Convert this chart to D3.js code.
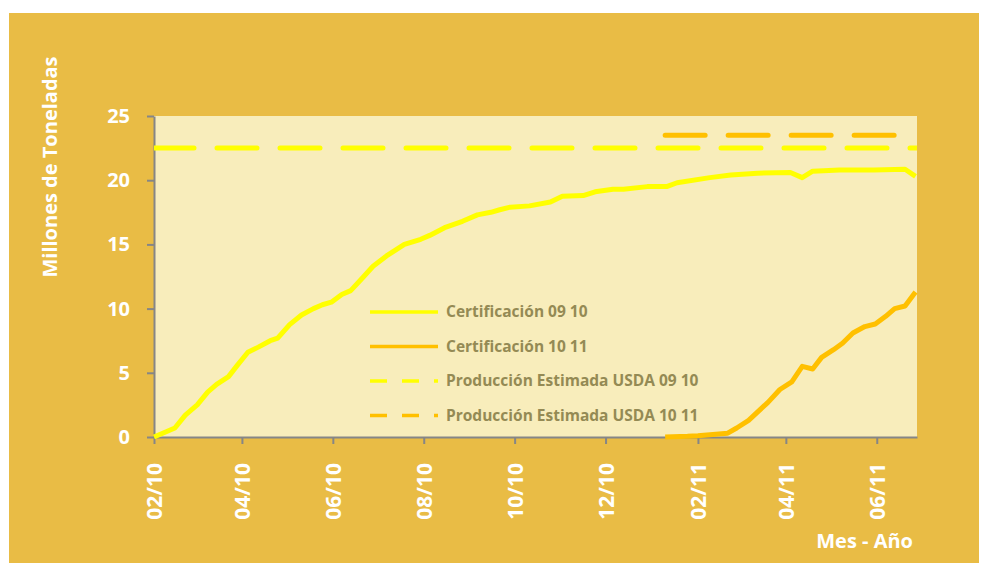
<!DOCTYPE html>
<html>
<head>
<meta charset="utf-8">
<script src="https://cdn.jsdelivr.net/npm/d3@7"></script>
<style>
  body { margin: 0; background: #fff; }
  text { font-family: "Open Sans", sans-serif; }
</style>
</head>
<body>
<div id="chart"></div>
<script>
// Certificación 09 10 (weekly, millones de toneladas)
var dates0910 = ["2010-02-01","2010-02-15","2010-02-22","2010-03-02","2010-03-09","2010-03-15","2010-03-23","2010-03-29",
  "2010-04-05","2010-04-12","2010-04-20","2010-04-25","2010-05-03","2010-05-11","2010-05-19","2010-05-25","2010-05-31",
  "2010-06-07","2010-06-13","2010-06-21","2010-06-28","2010-07-07","2010-07-19","2010-07-30","2010-08-05","2010-08-15",
  "2010-08-27","2010-09-06","2010-09-15","2010-09-21","2010-09-28","2010-10-11","2010-10-25","2010-11-02","2010-11-16",
  "2010-11-24","2010-12-06","2010-12-13","2010-12-29","2011-01-11","2011-01-18","2011-02-09","2011-02-23","2011-03-13",
  "2011-04-04","2011-04-12","2011-04-19","2011-05-07","2011-05-30","2011-06-20","2011-06-27"];
var vals0910 = [0, 0.7, 1.7, 2.5, 3.5, 4.1, 4.7, 5.6,
  6.6, 7.0, 7.5, 7.7, 8.75, 9.5, 10.0, 10.3, 10.5,
  11.1, 11.4, 12.4, 13.3, 14.1, 15.0, 15.4, 15.7, 16.3,
  16.8, 17.3, 17.5, 17.7, 17.9, 18.0, 18.3, 18.75, 18.8,
  19.1, 19.3, 19.3, 19.5, 19.5, 19.8, 20.2, 20.4, 20.55,
  20.6, 20.2, 20.7, 20.8, 20.8, 20.85, 20.3];

// Certificación 10 11
var dates1011 = ["2011-01-10","2011-01-25","2011-02-01","2011-02-21","2011-02-27","2011-03-07","2011-03-20","2011-03-28",
  "2011-04-05","2011-04-12","2011-04-19","2011-04-25","2011-05-03","2011-05-09","2011-05-16","2011-05-24","2011-05-31",
  "2011-06-07","2011-06-13","2011-06-20","2011-06-27"];
var vals1011 = [0, 0.05, 0.1, 0.3, 0.7, 1.3, 2.7, 3.7,
  4.3, 5.5, 5.3, 6.2, 6.8, 7.3, 8.1, 8.6, 8.8,
  9.4, 10.0, 10.2, 11.3];

// Producción Estimada USDA
var usda0910 = { start: "2010-02-01", end: "2011-06-28", value: 22.5 };
var usda1011 = { start: "2011-01-10", end: "2011-06-28", value: 23.5 };

var xTicks = ["2010-02-01","2010-04-01","2010-06-01","2010-08-01","2010-10-01","2010-12-01","2011-02-01","2011-04-01","2011-06-01"];
var yTicks = [0, 5, 10, 15, 20, 25];

var seriesNames = ["Certificación 09 10", "Certificación 10 11", "Producción Estimada USDA 09 10", "Producción Estimada USDA 10 11"];
var seriesColors = ["#FFFF00", "#FFC000", "#FFFF00", "#FFC000"];

var width = 988, height = 563;
var plotLeft = 154, plotRight = 917, plotTop = 116, plotBottom = 437;
var parse = d3.timeParse("%Y-%m-%d");

var svg = d3.select("#chart").append("svg")
  .attr("width", width)
  .attr("height", height);

svg.append("rect")
  .attr("x", 9).attr("y", 13)
  .attr("width", 970).attr("height", 550)
  .attr("fill", "#E9BC45");

svg.append("rect")
  .attr("x", plotLeft).attr("y", plotTop)
  .attr("width", plotRight - plotLeft).attr("height", plotBottom - plotTop)
  .attr("fill", "#F8EDBB");

svg.append("clipPath").attr("id", "plotclip")
  .append("rect")
  .attr("x", plotLeft).attr("y", plotTop - 10)
  .attr("width", plotRight - plotLeft).attr("height", plotBottom - plotTop + 10);

var x = d3.scaleTime()
  .domain([parse("2010-02-01"), parse("2011-06-28")])
  .range([plotLeft, plotRight]);
var y = d3.scaleLinear()
  .domain([0, 25])
  .range([plotBottom, plotTop]);

/** axes */
var xAxis = svg.append("g")
  .attr("transform", "translate(0," + plotBottom + ")")
  .call(d3.axisBottom(x)
    .tickValues(xTicks.map(parse))
    .tickFormat(d3.timeFormat("%m/%y"))
    .tickSize(7)
    .tickSizeOuter(0));
xAxis.select(".domain").attr("stroke", "#868686").attr("stroke-width", 2);
xAxis.selectAll(".tick line").attr("stroke", "#868686").attr("stroke-width", 2);
xAxis.selectAll(".tick text")
  .attr("transform", "rotate(-90)")
  .attr("text-anchor", "end")
  .attr("x", -26)
  .attr("y", 0)
  .attr("dy", "0.36em")
  .attr("fill", "#fff")
  .style("font-size", "21px")
  .style("font-weight", 700);

var yAxis = svg.append("g")
  .attr("transform", "translate(" + plotLeft + ",0)")
  .call(d3.axisLeft(y)
    .tickValues(yTicks)
    .tickSize(7)
    .tickSizeOuter(0)
    .tickPadding(17));
yAxis.select(".domain").attr("stroke", "#868686").attr("stroke-width", 2);
yAxis.selectAll(".tick line").attr("stroke", "#868686").attr("stroke-width", 2);
yAxis.selectAll(".tick text")
  .attr("fill", "#fff")
  .style("font-size", "20px")
  .style("font-weight", 700);

//axis titles
svg.append("text")
  .text("Millones de Toneladas")
  .attr("transform", "rotate(-90)")
  .attr("x", -167)
  .attr("y", 57)
  .attr("text-anchor", "middle")
  .attr("fill", "#fff")
  .style("font-size", "20px")
  .style("font-weight", 700);

svg.append("text")
  .text("Mes - Año")
  .attr("x", 913)
  .attr("y", 548)
  .attr("text-anchor", "end")
  .attr("fill", "#fff")
  .style("font-size", "20px")
  .style("font-weight", 700);

/** USDA estimate dashed lines */
[usda0910, usda1011].forEach(function(d, i) {
  svg.append("line")
    .attr("clip-path", "url(#plotclip)")
    .attr("x1", x(parse(d.start)))
    .attr("x2", x(parse(d.end)))
    .attr("y1", y(d.value))
    .attr("y2", y(d.value))
    .attr("stroke", seriesColors[i + 2])
    .attr("stroke-width", 5)
    .attr("stroke-linecap", "round")
    .attr("stroke-dasharray", "40 23");
});

/** certification lines */
var line = d3.line()
  .x(function(d) { return x(d[0]); })
  .y(function(d) { return y(d[1]); });

[[dates0910, vals0910], [dates1011, vals1011]].forEach(function(s, i) {
  var pts = s[0].map(function(dt, k) { return [parse(dt), s[1][k]]; });
  svg.append("path")
    .datum(pts)
    .attr("fill", "none")
    .attr("stroke", seriesColors[i])
    .attr("stroke-width", 5)
    .attr("stroke-linejoin", "round")
    .attr("d", line);
});

//key
seriesNames.forEach(function(name, i) {
  var ly = 312 + 34.5 * i;
  svg.append("line")
    .attr("x1", 370).attr("x2", 438)
    .attr("y1", ly).attr("y2", ly)
    .attr("stroke", seriesColors[i])
    .attr("stroke-width", 3.5)
    .attr("stroke-dasharray", i < 2 ? null : "17 15");
  svg.append("text")
    .attr("x", 446)
    .attr("y", ly)
    .attr("dy", "0.35em")
    .text(name)
    .attr("fill", "#948A54")
    .style("font-size", "15.5px")
    .style("font-weight", 700);
});
</script>
</body>
</html>
